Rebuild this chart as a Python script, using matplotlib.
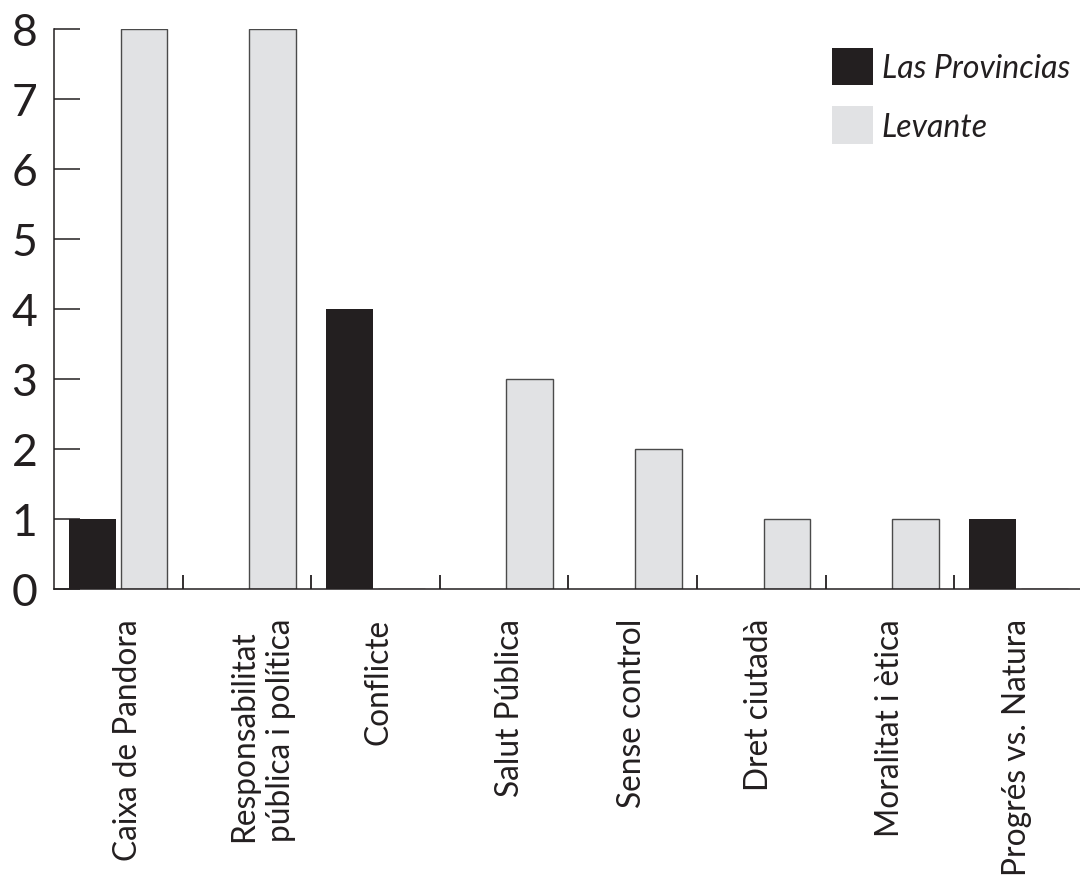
import matplotlib
matplotlib.use("Agg")
import matplotlib.pyplot as plt
import numpy as np

categories = ["Caixa de Pandora", "Responsabilitat\npública i política", "Conflicte",
              "Salut Pública", "Sense control", "Dret ciutadà",
              "Moralitat i ètica", "Progrés vs. Natura"]
las_provincias = [1, 0, 4, 0, 0, 0, 0, 1]
levante = [8, 8, 0, 3, 2, 1, 1, 0]
series_names = ["Las Provincias", "Levante"]
yticks = [0, 1, 2, 3, 4, 5, 6, 7, 8]

DARK = "#231f20"
LIGHT = "#e1e2e4"

plt.rcParams['font.family'] = ['Lato', 'DejaVu Sans']

W, H = 1080, 878
fig = plt.figure(figsize=(W / 100, H / 100), dpi=100)
left_px, right_px, top_px, bottom_px = 54, 1080, 30, 590
ax = fig.add_axes([left_px / W, 1 - bottom_px / H,
                   (right_px - left_px) / W, (bottom_px - top_px) / H])

group_px = 128.6
x = np.arange(len(categories))
bw = 0.364
b1 = ax.bar(x + 0.298, las_provincias, width=bw, color=DARK, edgecolor="none",
            label=series_names[0], zorder=2)
b2 = ax.bar(x + 0.700, levante, width=bw, color=LIGHT, edgecolor="#4a4a4a",
            linewidth=1.0, label=series_names[1], zorder=2)

ax.set_xlim(0, (right_px - left_px) / group_px)
ax.set_ylim(0, 8)

for s in ["top", "right"]:
    ax.spines[s].set_visible(False)
for s in ["left", "bottom"]:
    ax.spines[s].set_color(DARK)
    ax.spines[s].set_linewidth(1.1)
    ax.spines[s].set_zorder(3)

ax.set_yticks(yticks)
ax.set_yticklabels([str(v) for v in yticks])
ax.tick_params(axis="y", direction="in", length=18.7, width=1.1, color=DARK,
               labelsize=32, pad=12, labelcolor=DARK)
ax.set_xticks(np.arange(1, len(categories)))
ax.set_xticklabels([])
ax.tick_params(axis="x", direction="in", length=10, width=1.3, color=DARK)

label_pos = [0.575, 1.62, 2.527, 3.546, 4.495, 5.48, 6.50, 7.49]
trans = ax.get_xaxis_transform()
for xp, lab in zip(label_pos, categories):
    ax.text(xp, -29 / (bottom_px - top_px), lab, transform=trans, rotation=90,
            ha="center", va="top", multialignment="left", fontsize=22.8,
            color=DARK, linespacing=1.3)

leg = ax.legend(handles=[b1, b2], loc="upper left",
                bbox_to_anchor=(832 / W, 1 - 49 / H), bbox_transform=fig.transFigure,
                frameon=False, borderpad=0, borderaxespad=0,
                prop={"style": "italic", "size": 23},
                handlelength=1.28, handleheight=1.42, handletextpad=0.28,
                labelspacing=0.66)
for t in leg.get_texts():
    t.set_color(DARK)
for h in leg.legend_handles:
    h.set_edgecolor("none")

fig.savefig("out.png", dpi=100)
